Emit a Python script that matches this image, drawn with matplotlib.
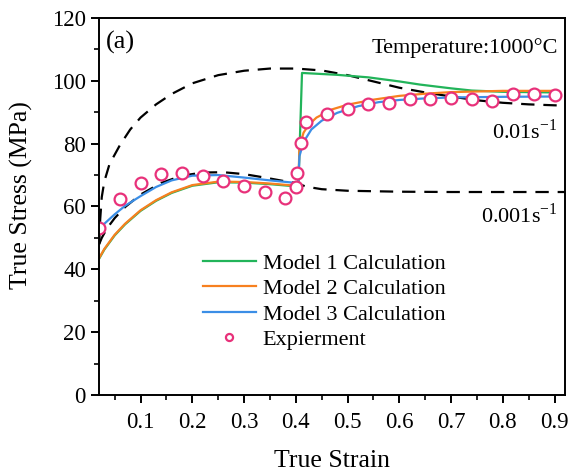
import matplotlib
matplotlib.use('Agg')
import matplotlib.pyplot as plt
from matplotlib.ticker import MultipleLocator

# Experiment (circles)
exp_strain = [0.02, 0.06, 0.10, 0.14, 0.18, 0.22, 0.26, 0.30, 0.34, 0.38, 0.401, 0.403, 0.41,
              0.42, 0.46, 0.50, 0.54, 0.58, 0.62, 0.66, 0.70, 0.74, 0.78, 0.82, 0.86, 0.90]
exp_stress = [53.2, 62.4, 67.4, 70.3, 70.7, 69.8, 68.1, 66.6, 64.5, 62.6, 66.3, 70.5, 80.3,
              86.9, 89.4, 91.0, 92.6, 93.0, 94.2, 94.3, 94.6, 94.3, 93.7, 95.7, 95.8, 95.6]

# Model 1 (green)
m1_strain = [0.02, 0.03, 0.05, 0.07, 0.10, 0.13, 0.16, 0.20, 0.25, 0.30, 0.35, 0.40, 0.405,
             0.412, 0.48, 0.54, 0.60, 0.64, 0.70, 0.74, 0.80, 0.90]
m1_stress = [43.4, 46.3, 50.8, 54.3, 58.6, 61.8, 64.3, 66.6, 67.7, 67.6, 67.1, 66.4, 66.8,
             102.5, 101.9, 101.1, 99.8, 98.8, 97.6, 96.9, 96.5, 96.3]

# Model 2 (orange)
m2_strain = [0.02, 0.03, 0.05, 0.07, 0.10, 0.13, 0.16, 0.20, 0.25, 0.30, 0.35, 0.40, 0.405,
             0.407, 0.415, 0.425, 0.44, 0.47, 0.50, 0.55, 0.60, 0.65, 0.70, 0.80, 0.90]
m2_stress = [43.6, 46.5, 51.0, 54.5, 58.8, 62.0, 64.5, 66.8, 67.9, 67.8, 67.3, 66.6, 67.0,
             79.0, 83.5, 86.0, 88.3, 90.9, 92.4, 94.0, 95.2, 95.9, 96.4, 96.8, 96.8]

# Model 3 (blue)
m3_strain = [0.02, 0.03, 0.05, 0.07, 0.10, 0.13, 0.16, 0.20, 0.25, 0.30, 0.35, 0.40, 0.405,
             0.407, 0.415, 0.43, 0.45, 0.48, 0.52, 0.56, 0.60, 0.65, 0.70, 0.80, 0.90]
m3_stress = [52.5, 54.5, 57.5, 60.2, 63.3, 66.2, 68.3, 69.8, 70.0, 69.2, 68.3, 67.5, 67.5,
             76.0, 80.5, 84.5, 87.3, 89.8, 91.9, 93.2, 93.9, 94.4, 94.7, 94.9, 95.0]

# Reference curves (dashed)
r01_strain = [0.02, 0.022, 0.025, 0.03, 0.04, 0.06, 0.08, 0.10, 0.13, 0.16, 0.20, 0.25, 0.30,
              0.35, 0.40, 0.45, 0.50, 0.55, 0.60, 0.65, 0.70, 0.75, 0.80, 0.85, 0.90, 0.92]
r01_stress = [48.0, 56.0, 63.0, 68.0, 73.5, 79.5, 84.5, 88.3, 92.5, 95.8, 99.2, 101.8, 103.2,
              103.9, 103.9, 103.3, 101.8, 99.8, 97.8, 96.3, 95.0, 93.8, 93.0, 92.5, 92.2, 92.1]

r001_strain = [0.02, 0.025, 0.035, 0.05, 0.07, 0.10, 0.14, 0.18, 0.22, 0.26, 0.30, 0.34, 0.38,
               0.40, 0.42, 0.45, 0.50, 0.60, 0.70, 0.80, 0.90, 0.92]
r001_stress = [48.0, 50.0, 53.0, 56.3, 59.8, 63.8, 67.5, 69.8, 70.8, 70.9, 70.3, 69.2, 68.0,
               67.5, 66.3, 65.5, 65.0, 64.7, 64.6, 64.6, 64.6, 64.6]

plt.rcParams['font.family'] = 'Liberation Serif'
plt.rcParams['mathtext.fontset'] = 'custom'
plt.rcParams['mathtext.rm'] = 'Liberation Serif'


def main():
    fig = plt.figure(figsize=(5.7, 4.73), dpi=100)
    ax = fig.add_axes([0.174, 0.165, 0.817, 0.797])

    ax.plot(r01_strain, r01_stress, color='black', lw=1.6, dashes=(6, 4))
    ax.plot(r001_strain, r001_stress, color='black', lw=1.6, dashes=(6, 4))

    ax.plot(m1_strain, m1_stress, color='#22b45a', lw=1.6, label='Model 1 Calculation')
    ax.plot(m2_strain, m2_stress, color='#f7801f', lw=1.6, label='Model 2 Calculation')
    ax.plot(m3_strain, m3_stress, color='#3b8ee6', lw=1.6, label='Model 3 Calculation')
    ax.plot(exp_strain, exp_stress, 'o', ms=8.5, mfc='white', mec='#e8317a', mew=1.6,
            ls='none', label='Expierment')

    ax.set_xlim(0.02, 0.92)
    ax.set_ylim(0, 120)
    ax.xaxis.set_minor_locator(MultipleLocator(0.05))
    ax.yaxis.set_major_locator(MultipleLocator(20))
    ax.yaxis.set_minor_locator(MultipleLocator(10))
    ax.set_xticks([0.1, 0.2, 0.3, 0.4, 0.5, 0.6, 0.7, 0.8, 0.9])
    ax.set_xticklabels(['0.1', '0.2', '0.3', '0.4', '0.5', '0.6', '0.7', '0.8', '0.9'])
    ax.tick_params(which='major', direction='out', length=6, width=1.4, labelsize=16.5)
    ax.tick_params(axis='x', which='major', pad=6)
    ax.tick_params(which='minor', direction='out', length=3.5, width=1.2)
    for s in ax.spines.values():
        s.set_linewidth(1.4)

    ax.set_xlabel('True Strain', fontsize=18.5)
    ax.set_ylabel('True Stress (MPa)', fontsize=18.5)
    ax.xaxis.set_label_coords(0.5, -0.175)
    ax.yaxis.set_label_coords(-0.167, 0.53)
    ax.xaxis.label.set_va('center')
    ax.yaxis.label.set_va('center')

    ax.text(0.015, 0.935, '(a)', transform=ax.transAxes, fontsize=19, va='center')
    ax.text(0.985, 0.92, 'Temperature:1000°C', transform=ax.transAxes, fontsize=16,
            ha='right', va='center')
    ax.text(0.985, 0.70, '0.01s$^{-1}$', transform=ax.transAxes, fontsize=16,
            ha='right', va='center')
    ax.text(0.985, 0.475, '0.001s$^{-1}$', transform=ax.transAxes, fontsize=16,
            ha='right', va='center')

    ax.legend(loc='upper left', bbox_to_anchor=(0.203, 0.40), frameon=False, fontsize=16,
              handlelength=2.4, handletextpad=0.3, labelspacing=0.225, markerscale=0.6,
              borderaxespad=0)

    fig.savefig('out.png', dpi=100)


if __name__ == "__main__":
    main()
